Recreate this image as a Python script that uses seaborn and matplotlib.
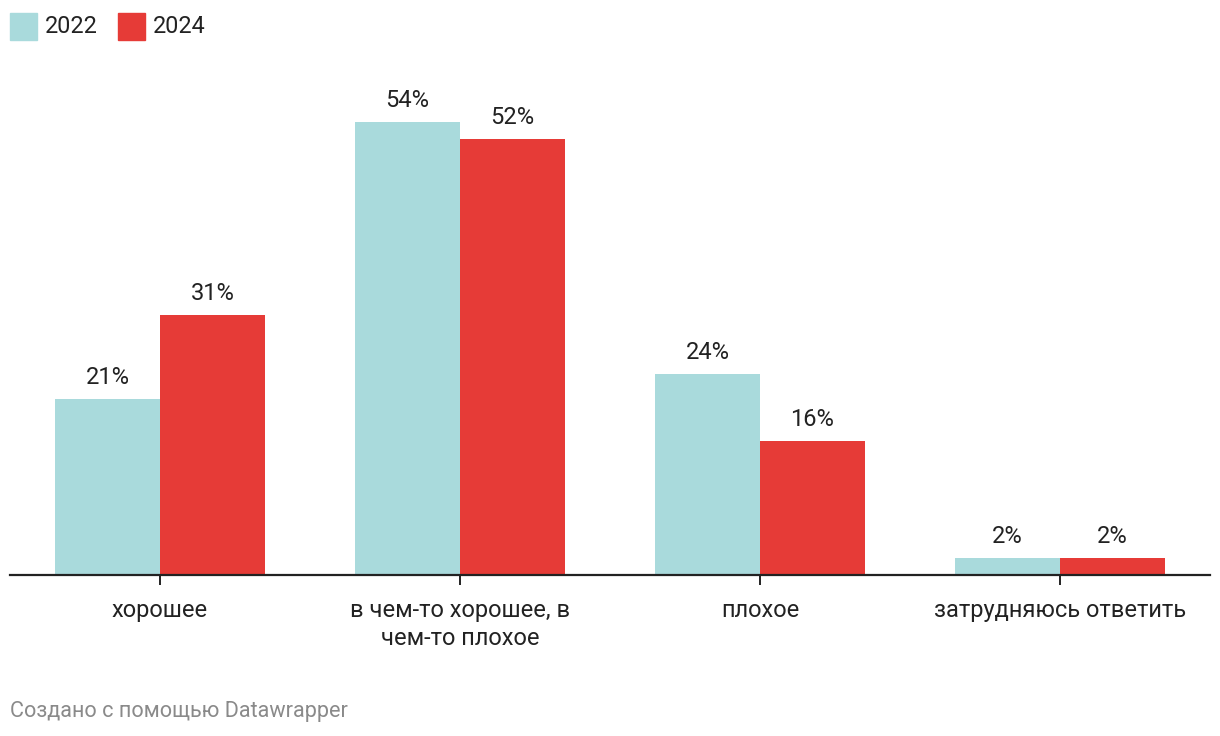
import matplotlib
matplotlib.use("Agg")
import matplotlib.pyplot as plt
import seaborn as sns
import pandas as pd
from matplotlib.patches import Rectangle

categories = ["хорошее", "в чем-то хорошее, в\nчем-то плохое", "плохое", "затрудняюсь ответить"]
years = ["2022", "2024"]
values_2022 = [21, 54, 24, 2]
values_2024 = [31, 52, 16, 2]
colors = ["#a9dadc", "#e63b37"]

sns.set_theme(style="white")
plt.rcParams["font.family"] = ["Roboto", "DejaVu Sans"]

df = pd.DataFrame({
    "cat": categories * 2,
    "year": [years[0]] * 4 + [years[1]] * 4,
    "val": values_2022 + values_2024,
})

W, H = 1220, 736
fig = plt.figure(figsize=(W / 100, H / 100), dpi=100)
ax = fig.add_axes([10 / W, 161 / H, 1200 / W, 500 / H])

sns.barplot(data=df, x="cat", y="val", hue="year", palette=colors, width=0.7,
            gap=0, saturation=1, ax=ax, legend=False, linewidth=0, order=categories)

ax.set_xlim(-0.5, 3.5)
ax.set_ylim(0, 500 / 8.39)
ax.set_xlabel("")
ax.set_ylabel("")
ax.set_yticks([])
for s in ["top", "right", "left"]:
    ax.spines[s].set_visible(False)
ax.spines["bottom"].set_color("#222222")
ax.spines["bottom"].set_linewidth(1.6)
ax.tick_params(axis="x", length=7, width=1.4, color="#222222", pad=10,
               labelsize=17, labelcolor="#222222", bottom=True)
for lbl in ax.get_xticklabels():
    lbl.set_linespacing(1.3)

for cont in ax.containers:
    for bar in cont:
        h = bar.get_height()
        ax.annotate(f"{h:.0f}%", (bar.get_x() + bar.get_width() / 2, h),
                    xytext=(0, 7), textcoords="offset points", ha="center", va="bottom",
                    fontsize=17, color="#222222")

# legend
for i, (yr, c, x0) in enumerate(zip(years, colors, [10, 118])):
    fig.patches.append(Rectangle((x0 / W, 1 - 40 / H), 27 / W, 27 / H,
                                 transform=fig.transFigure, color=c, figure=fig))
    fig.text((x0 + 35) / W, 1 - 26.5 / H, yr, ha="left", va="center",
             fontsize=16.8, color="#222222")

fig.text(10 / W, 1 - 711 / H, "Создано с помощью Datawrapper", ha="left", va="center",
         fontsize=15.6, color="#8a8a8a")

fig.savefig("out.png", dpi=100, facecolor="white")
